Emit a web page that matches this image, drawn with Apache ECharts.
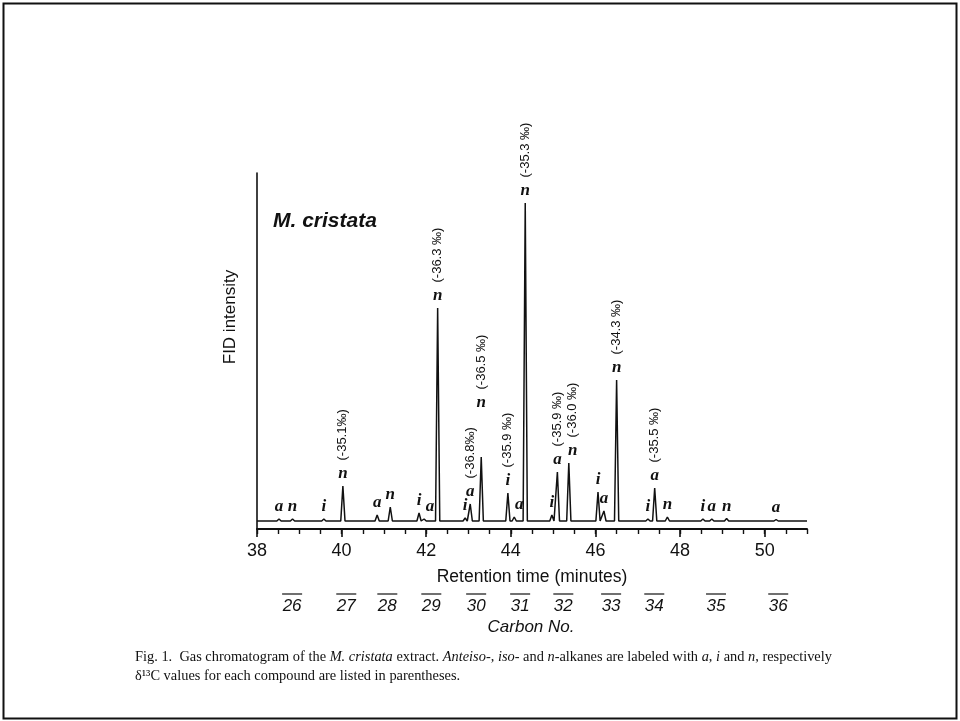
<!DOCTYPE html>
<html>
<head>
<meta charset="utf-8">
<script src="https://cdn.jsdelivr.net/npm/echarts@6/dist/echarts.min.js"></script>
<style>
  html, body { margin: 0; padding: 0; background: #fff; }
  #chart { width: 960px; height: 721px; }
</style>
</head>
<body>
<div id="chart"></div>
<script>
// Retention time (min) of each resolved peak
const peakTimes = [38.52, 38.84, 39.58, 40.03, 40.84, 41.15, 41.83, 41.95, 42.27, 42.92,
                   43.04, 43.30, 43.93, 44.08, 44.34, 44.97, 45.10, 45.37, 46.06, 46.20,
                   46.50, 47.24, 47.40, 47.70, 48.54, 48.75, 49.10, 50.27];
// FID response of each peak above the baseline (arbitrary units)
const peakHeights = [2, 2, 2, 35, 6, 14, 8, 2, 213, 3,
                     17, 64, 28, 4, 318, 6, 49, 58, 29, 10,
                     141, 2, 33, 4, 2, 2, 2.5, 1.5];
// Compound class: a = anteiso-, i = iso-, n = n-alkane
const peakClass = ['a', 'n', 'i', 'n', 'a', 'n', 'i', 'a', 'n', 'i',
                   'a', 'n', 'i', 'a', 'n', 'i', 'a', 'n', 'i', 'a',
                   'n', 'i', 'a', 'n', 'i', 'a', 'n', 'a'];
// δ13C value of the compound, empty where none is given
const d13C = ['', '', '', '(-35.1‰)', '', '', '', '', '(-36.3 ‰)', '',
              '(-36.8‰)', '(-36.5 ‰)', '(-35.9 ‰)', '', '(-35.3 ‰)', '', '(-35.9 ‰)', '(-36.0 ‰)', '', '',
              '(-34.3 ‰)', '', '(-35.5 ‰)', '', '', '', '', ''];
// Carbon-number bars under the time axis
const carbonNumbers = ['26', '27', '28', '29', '30', '31', '32', '33', '34', '35', '36'];
const carbonTimes = [38.83, 40.11, 41.08, 42.12, 43.18, 44.22, 45.24, 46.37, 47.39, 48.85, 50.32];
// Labelled ticks of the retention-time axis
const xTicks = [38, 40, 42, 44, 46, 48, 50];

const T_MIN = 38, T_MAX = 51;
const HALF_WIDTH = 0.05;          // half base width of a drawn peak (min)
const INK = '#111';

// Trace: flat baseline with a narrow peak at each retention time
const trace = [[T_MIN, 0]];
peakTimes.forEach((t, i) => {
  trace.push([t - HALF_WIDTH, 0], [t, peakHeights[i]], [t + HALF_WIDTH, 0]);
});
trace.push([T_MAX, 0]);

// Extra lift for crowded annotations, and small sideways nudges (screen px)
const labelLift = { 11: 42 };
const labelNudge = { 7: 6, 13: 5, 17: 4 };

const letterData = peakTimes.map((t, i) => {
  const item = { value: [t, peakHeights[i]], name: peakClass[i] };
  const lab = {};
  if (labelLift[i]) lab.distance = 3 + labelLift[i];
  if (labelNudge[i]) lab.offset = [labelNudge[i], 0];
  if (Object.keys(lab).length) item.label = lab;
  return item;
});

// The value labels are turned 90°, so their offset is given in the rotated frame
const isoData = [];
peakTimes.forEach((t, i) => {
  if (!d13C[i]) return;
  const item = { value: [t, peakHeights[i]], name: d13C[i] };
  const lab = {};
  if (labelLift[i]) lab.distance = 25 + labelLift[i];
  if (labelNudge[i]) lab.offset = [0, labelNudge[i]];
  if (Object.keys(lab).length) item.label = lab;
  isoData.push(item);
});

// Invisible anchor symbols that carry the annotations at full opacity
const anchorStyle = { color: 'transparent', opacity: 1 };

const chart = echarts.init(document.getElementById('chart'), null, { renderer: 'canvas' });

chart.setOption({
  backgroundColor: '#fff',
  animation: false,
  grid: [
    { left: 257, right: 153, top: 173, bottom: 192 },
    { left: 257, right: 153, top: 594, height: 20 }
  ],
  xAxis: [
    {
      gridIndex: 0, type: 'value', position: 'bottom', min: T_MIN, max: T_MAX, interval: 2,
      axisLine: { show: true, onZero: false, lineStyle: { color: INK, width: 2 } },
      axisTick: { show: true, length: 8, customValues: xTicks, lineStyle: { color: INK, width: 1.6 } },
      axisLabel: { customValues: xTicks, margin: 13, color: INK, fontSize: 18, fontFamily: 'Liberation Sans' },
      splitLine: { show: false },
      name: 'Retention time (minutes)', nameLocation: 'middle', nameGap: 39,
      nameTextStyle: { color: INK, fontSize: 17.5, fontFamily: 'Liberation Sans' }
    },
    {
      gridIndex: 0, type: 'value', position: 'bottom', min: T_MIN, max: T_MAX, interval: 0.5,
      axisLine: { show: false, onZero: false },
      axisTick: { show: true, length: 5, lineStyle: { color: INK, width: 1.4 } },
      axisLabel: { show: false },
      splitLine: { show: false }
    },
    { gridIndex: 1, type: 'value', min: T_MIN, max: T_MAX, show: false }
  ],
  yAxis: [
    {
      gridIndex: 0, type: 'value', min: -8, max: 348,
      axisLine: { show: true, onZero: false, lineStyle: { color: INK, width: 1.6 } },
      axisTick: { show: false }, axisLabel: { show: false }, splitLine: { show: false }
    },
    { gridIndex: 1, type: 'value', min: 0, max: 1, show: false }
  ],
  series: [
    {
      name: 'FID', type: 'line', xAxisIndex: 0, yAxisIndex: 0,
      data: trace, showSymbol: false, symbol: 'none', silent: true,
      lineStyle: { color: INK, width: 1.5 }
    },
    {
      name: 'class', type: 'scatter', xAxisIndex: 0, yAxisIndex: 0, clip: false, silent: true,
      data: letterData, symbolSize: 1, itemStyle: anchorStyle,
      label: {
        show: true, position: 'top', distance: 3, formatter: p => p.name,
        fontFamily: 'Liberation Serif', fontStyle: 'italic', fontWeight: 'bold',
        fontSize: 17, color: INK, opacity: 1
      }
    },
    {
      name: 'd13C', type: 'scatter', xAxisIndex: 0, yAxisIndex: 0, clip: false, silent: true,
      data: isoData, symbolSize: 1, itemStyle: anchorStyle,
      label: {
        show: true, position: 'top', distance: 25, rotate: 90, align: 'left', verticalAlign: 'middle',
        formatter: p => p.name, fontFamily: 'Liberation Sans', fontSize: 13, color: INK, opacity: 1
      }
    },
    {
      name: 'carbon', type: 'scatter', xAxisIndex: 2, yAxisIndex: 1, clip: false, silent: true,
      data: carbonTimes.map((t, i) => ({ value: [t, 1], name: carbonNumbers[i] })),
      symbol: 'rect', symbolSize: [20, 1.3], itemStyle: { color: '#222', opacity: 1 },
      label: {
        show: true, position: 'bottom', distance: 3, formatter: p => p.name,
        fontFamily: 'Liberation Sans', fontStyle: 'italic', fontSize: 17, color: INK, opacity: 1
      }
    }
  ],
  graphic: [
    {
      type: 'rect', silent: true,
      shape: { x: 3.5, y: 3.5, width: 953, height: 715 },
      style: { fill: 'none', stroke: '#111', lineWidth: 2 }
    },
    {
      type: 'text', x: 230, y: 317, rotation: Math.PI / 2, silent: true,
      style: { text: 'FID intensity', fill: INK, font: '17px "Liberation Sans"', align: 'center', verticalAlign: 'middle' }
    },
    {
      type: 'text', x: 273, y: 221, silent: true,
      style: { text: 'M. cristata', fill: INK, font: 'italic bold 21px "Liberation Sans"', align: 'left', verticalAlign: 'middle' }
    },
    {
      type: 'text', x: 531, y: 627, silent: true,
      style: { text: 'Carbon No.', fill: INK, font: 'italic 17px "Liberation Sans"', align: 'center', verticalAlign: 'middle' }
    },
    {
      type: 'text', x: 135, y: 657, silent: true,
      style: {
        text: 'Fig. 1.  Gas chromatogram of the {i|M. cristata} extract. {i|Anteiso}-, {i|iso}- and {i|n}-alkanes are labeled with {i|a}, {i|i} and {i|n}, respectively',
        fill: INK, font: '14.4px "Liberation Serif"', align: 'left', verticalAlign: 'middle',
        rich: { i: { fontStyle: 'italic', fontFamily: 'Liberation Serif', fontSize: 14.4, color: INK } }
      }
    },
    {
      type: 'text', x: 135, y: 676, silent: true,
      style: {
        text: 'δ¹³C values for each compound are listed in parentheses.',
        fill: INK, font: '14.4px "Liberation Serif"', align: 'left', verticalAlign: 'middle'
      }
    }
  ]
});
</script>
</body>
</html>
